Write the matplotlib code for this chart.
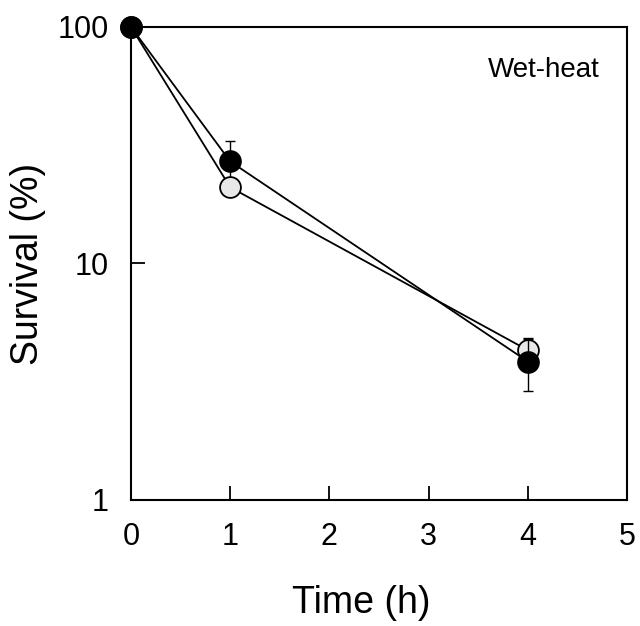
import matplotlib.pyplot as plt
import matplotlib.ticker as mticker

plt.rcParams['font.family'] = ['Liberation Sans', 'DejaVu Sans']

# data
time_h = [0, 1, 4]
surv_open = [100, 21, 4.3]
err_open = [0, 0, 0.55]
surv_filled = [100, 27, 3.85]
err_filled = [0, 6, 0.95]

x_ticks = [0, 1, 2, 3, 4, 5]
y_ticks = [1, 10, 100]


def draw_err(ax, x, y, e, z):
    # only points that actually have an error bar
    pts = [(a, b, c) for a, b, c in zip(x, y, e) if c > 0]
    xs, ys, es = zip(*pts)
    ax.errorbar(xs, ys, yerr=es, fmt='none', ecolor='black', elinewidth=1,
                capsize=3.5, capthick=1, clip_on=False, zorder=z)


fig = plt.figure(figsize=(6.4, 6.26), dpi=100)
ax = fig.add_axes([0.2047, 0.2013, 0.775, 0.7556])

# black series error bars sit underneath the open markers
draw_err(ax, time_h, surv_filled, err_filled, 2)
ax.plot(time_h, surv_open, color='black', lw=1.3, marker='o', ms=15,
        mfc='#e8e8e8', mec='black', mew=1.3, clip_on=False, zorder=3)
draw_err(ax, time_h, surv_open, err_open, 3.5)
ax.plot(time_h, surv_filled, color='black', lw=1.3, marker='o', ms=15,
        mfc='black', mec='black', mew=1.3, clip_on=False, zorder=4)

ax.set_yscale('log')
ax.set_xlim(0, 5)
ax.set_ylim(1, 100)
ax.set_xticks(x_ticks)
ax.set_yticks(y_ticks)
ax.yaxis.set_major_formatter(mticker.FuncFormatter(lambda v, p: f"{v:g}"))
ax.yaxis.set_minor_locator(mticker.NullLocator())

ax.tick_params(direction='in', length=10, width=1.3, labelsize=22)
ax.tick_params(axis='x', pad=16)
ax.tick_params(axis='y', pad=16)
for s in ax.spines.values():
    s.set_linewidth(1.5)

ax.set_xlabel('Time (h)', fontsize=27)
ax.xaxis.set_label_coords((361 - 131) / 496, (500 - 613) / 473)
ax.xaxis.label.set_va('baseline')
ax.set_ylabel('Survival (%)', fontsize=27)
ax.yaxis.set_label_coords((28 - 131) / 496, 0.5)
ax.yaxis.label.set_va('center')

ax.text(0.9456, 0.894, 'Wet-heat', transform=ax.transAxes, fontsize=20,
        ha='right', va='baseline')

fig.savefig('out.png', dpi=100)
